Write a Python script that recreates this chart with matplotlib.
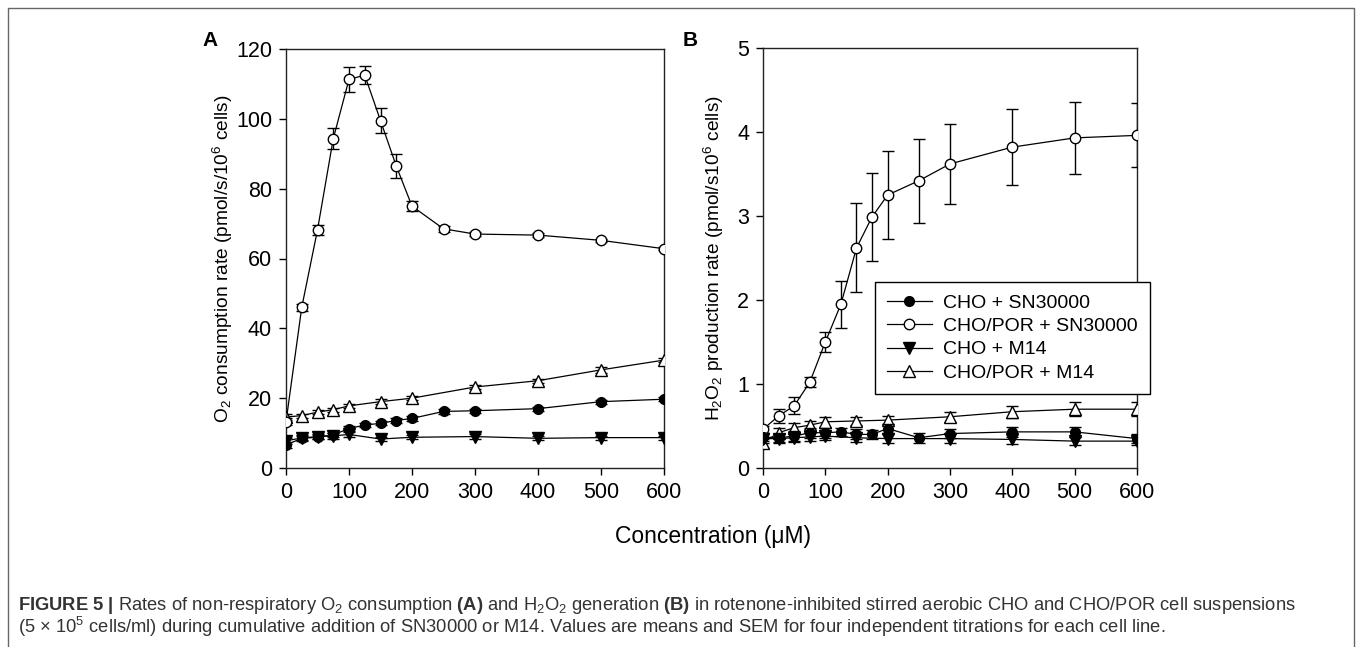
import matplotlib
matplotlib.use("Agg")
import matplotlib.pyplot as plt
from matplotlib.lines import Line2D

plt.rcParams['font.family'] = ['Liberation Sans', 'DejaVu Sans']
plt.rcParams['mathtext.fontset'] = 'custom'
plt.rcParams['mathtext.rm'] = 'Liberation Sans'
plt.rcParams['mathtext.it'] = 'Liberation Sans:italic'
plt.rcParams['mathtext.bf'] = 'Liberation Sans:bold'

# ---------------- data ----------------
x_sn = [0, 25, 50, 75, 100, 125, 150, 175, 200, 250, 300, 400, 500, 600]
x_m14 = [0, 25, 50, 75, 100, 150, 200, 300, 400, 500, 600]

# Panel A: O2 consumption
a_cho_sn = [6.6, 8.5, 8.8, 9.5, 11.3, 12.3, 12.8, 13.6, 14.2, 16.2, 16.4, 17.0, 19.0, 19.7]
a_cho_sn_err = [0.8, 0.6, 0.6, 0.6, 0.8, 0.6, 0.6, 0.6, 0.6, 0.6, 0.6, 0.6, 0.6, 0.6]
a_por_sn = [13.2, 46.0, 68.2, 94.3, 111.3, 112.5, 99.5, 86.5, 75.0, 68.5, 67.0, 66.7, 65.2, 62.8]
a_por_sn_err = [1.0, 1.0, 1.5, 3.0, 3.5, 2.5, 3.5, 3.5, 1.5, 0.8, 0.5, 0.5, 0.5, 0.5]
a_cho_m14 = [7.8, 8.6, 9.0, 9.2, 9.6, 8.3, 8.8, 9.0, 8.5, 8.7, 8.7]
a_cho_m14_err = [0.8, 0.8, 0.8, 0.8, 0.8, 0.6, 0.6, 0.6, 0.6, 0.6, 0.6]
a_por_m14 = [14.6, 15.0, 16.0, 16.7, 17.8, 19.0, 20.0, 23.2, 25.0, 28.1, 30.9]
a_por_m14_err = [0.8, 0.6, 0.6, 0.6, 0.6, 0.8, 0.6, 0.6, 0.6, 0.8, 0.6]

# Panel B: H2O2 production
b_cho_sn = [0.37, 0.36, 0.38, 0.42, 0.42, 0.43, 0.40, 0.40, 0.47, 0.36, 0.41, 0.43, 0.43, 0.35]
b_cho_sn_err = [0.05, 0.05, 0.06, 0.06, 0.06, 0.05, 0.06, 0.05, 0.05, 0.06, 0.05, 0.06, 0.06, 0.05]
b_por_sn = [0.46, 0.62, 0.74, 1.02, 1.50, 1.95, 2.62, 2.99, 3.25, 3.42, 3.62, 3.82, 3.93, 3.96]
b_por_sn_err = [0.04, 0.08, 0.10, 0.06, 0.12, 0.28, 0.53, 0.52, 0.52, 0.50, 0.48, 0.45, 0.43, 0.38]
b_cho_m14 = [0.35, 0.35, 0.36, 0.37, 0.38, 0.36, 0.35, 0.35, 0.34, 0.32, 0.32]
b_cho_m14_err = [0.05, 0.05, 0.05, 0.05, 0.05, 0.05, 0.05, 0.05, 0.05, 0.05, 0.05]
b_por_m14 = [0.30, 0.42, 0.48, 0.51, 0.55, 0.56, 0.57, 0.61, 0.67, 0.70, 0.70]
b_por_m14_err = [0.06, 0.06, 0.05, 0.05, 0.06, 0.05, 0.05, 0.06, 0.07, 0.08, 0.08]

labels = ["CHO + SN30000", "CHO/POR + SN30000", "CHO + M14", "CHO/POR + M14"]

# ---------------- figure ----------------
W, H = 1357, 647
fig = plt.figure(figsize=(W / 100, H / 100), dpi=100)

def ax_rect(x0, x1, ytop, ybot):
    return [x0 / W, 1 - ybot / H, (x1 - x0) / W, (ybot - ytop) / H]

axA = fig.add_axes(ax_rect(286, 664, 49, 468))
axB = fig.add_axes(ax_rect(763, 1137, 48, 468))

styles = {
    'cho_sn': dict(marker='o', mfc='black', mec='black', ms=7.0),
    'por_sn': dict(marker='o', mfc='white', mec='black', ms=7.5),
    'cho_m14': dict(marker='v', mfc='black', mec='black', ms=8.0),
    'por_m14': dict(marker='^', mfc='white', mec='black', ms=8.5),
}

def plot_series(ax, x, y, e, key, z):
    ax.errorbar(x, y, yerr=e, color='black', lw=0.9, elinewidth=1.0,
                capsize=4, capthick=1.0, mew=1.0, zorder=z, **styles[key])

for ax, data in [
    (axA, [(x_m14, a_por_m14, a_por_m14_err, 'por_m14', 3),
           (x_sn, a_por_sn, a_por_sn_err, 'por_sn', 4),
           (x_m14, a_cho_m14, a_cho_m14_err, 'cho_m14', 5),
           (x_sn, a_cho_sn, a_cho_sn_err, 'cho_sn', 6)]),
    (axB, [(x_m14, b_por_m14, b_por_m14_err, 'por_m14', 3),
           (x_sn, b_por_sn, b_por_sn_err, 'por_sn', 4),
           (x_m14, b_cho_m14, b_cho_m14_err, 'cho_m14', 5),
           (x_sn, b_cho_sn, b_cho_sn_err, 'cho_sn', 6)]),
]:
    for x, y, e, key, z in data:
        plot_series(ax, x, y, e, key, z)
    ax.set_xlim(0, 600)
    ax.set_xticks([0, 100, 200, 300, 400, 500, 600])
    ax.tick_params(direction='out', length=5, width=1, labelsize=15.5, pad=5, colors='black')
    for s in ax.spines.values():
        s.set_linewidth(1.0)
        s.set_color('#222222')

axA.set_ylim(0, 120)
axA.set_yticks([0, 20, 40, 60, 80, 100, 120])
axB.set_ylim(0, 5)
axB.set_yticks([0, 1, 2, 3, 4, 5])

axA.set_ylabel("O$_2$ consumption rate (pmol/s/10$^6$ cells)", fontsize=13.8, labelpad=1)
axB.set_ylabel("H$_2$O$_2$ production rate (pmol/s10$^6$ cells)", fontsize=13.8, labelpad=8)

fig.text(210 / W, 1 - 40 / H, "A", fontsize=15, fontweight='bold', ha='center', va='center')
fig.text(690 / W, 1 - 40 / H, "B", fontsize=15, fontweight='bold', ha='center', va='center')

fig.text(713 / W, 1 - 537 / H, "Concentration (\u03bcM)", fontsize=16.5, ha='center', va='center')

# legend
handles = [Line2D([], [], color='black', lw=0.9, mew=1.0, **styles[k])
           for k in ['cho_sn', 'por_sn', 'cho_m14', 'por_m14']]
leg = axB.legend(handles, labels, loc='upper right', bbox_to_anchor=(1.035, 0.443),
                 fontsize=14, frameon=True, fancybox=False, edgecolor='black',
                 framealpha=1, handlelength=2.3, labelspacing=0.3, borderpad=0.62,
                 handletextpad=0.6, borderaxespad=0)
leg.get_frame().set_linewidth(1.0)
leg.set_zorder(10)

# caption
cap_color = '#333333'
line1 = (r"$\mathbf{FIGURE\ 5\ |}$ Rates of non-respiratory O$_2$ consumption $\mathbf{(A)}$ and "
         r"H$_2$O$_2$ generation $\mathbf{(B)}$ in rotenone-inhibited stirred aerobic CHO and CHO/POR cell suspensions")
line2 = ("(5 \u00d7 10$^5$ cells/ml) during cumulative addition of SN30000 or M14. Values are means "
         "and SEM for four independent titrations for each cell line.")
fig.text(18 / W, 1 - 605 / H, line1, fontsize=13.2, color=cap_color, ha='left', va='center')
fig.text(18 / W, 1 - 627 / H, line2, fontsize=13.2, color=cap_color, ha='left', va='center')

# figure border (open at bottom)
fig.add_artist(Line2D([8 / W, 8 / W, 1354 / W, 1354 / W], [-0.01, 1 - 8 / H, 1 - 8 / H, -0.01],
                      transform=fig.transFigure, color='#666666', lw=1.0))

fig.savefig("out.png", dpi=100)
